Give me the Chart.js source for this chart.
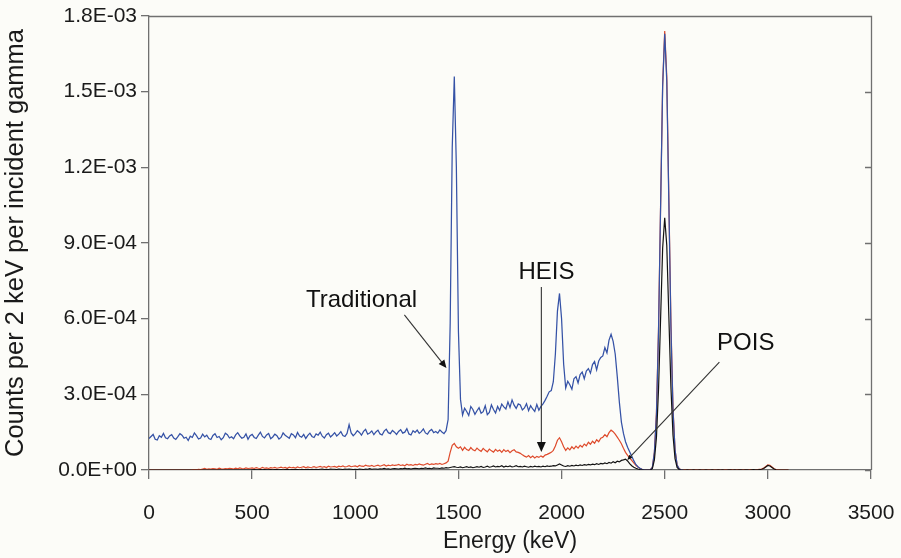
<!DOCTYPE html>
<html><head><meta charset="utf-8">
<script src="https://cdn.jsdelivr.net/npm/chart.js@4.4.1/dist/chart.umd.min.js"></script>
<style>html,body{margin:0;padding:0;background:#fcfcf8}#wrap{width:901px;height:558px}</style>
</head><body><div id="wrap"><canvas id="c" width="901" height="558"></canvas></div>
<script>
// Energy grid (keV)
const energy = [
0,10,20,30,40,50,60,70,80,90,
100,110,120,130,140,150,160,170,180,190,
200,210,220,230,240,250,260,270,280,290,
300,310,320,330,340,350,360,370,380,390,
400,410,420,430,440,450,460,470,480,490,
500,510,520,530,540,550,560,570,580,590,
600,610,620,630,640,650,660,670,680,690,
700,710,720,730,740,750,760,770,780,790,
800,810,820,830,840,850,860,870,880,890,
900,910,920,930,940,950,960,970,980,990,
1000,1010,1020,1030,1040,1050,1060,1070,1080,1090,
1100,1110,1120,1130,1140,1150,1160,1170,1180,1190,
1200,1210,1220,1230,1240,1250,1260,1270,1280,1290,
1300,1310,1320,1330,1340,1350,1360,1370,1380,1390,
1400,1410,1420,1430,1440,1450,1460,1470,1480,1490,
1500,1510,1520,1530,1540,1550,1560,1570,1580,1590,
1600,1610,1620,1630,1640,1650,1660,1670,1680,1690,
1700,1710,1720,1730,1740,1750,1760,1770,1780,1790,
1800,1810,1820,1830,1840,1850,1860,1870,1880,1890,
1900,1910,1920,1930,1940,1950,1960,1970,1980,1990,
2000,2010,2020,2030,2040,2050,2060,2070,2080,2090,
2100,2110,2120,2130,2140,2150,2160,2170,2180,2190,
2200,2210,2220,2230,2240,2250,2260,2270,2280,2290,
2300,2310,2320,2330,2340,2350,2360,2370,2380,2390,
2400,2410,2420,2430,2440,2450,2460,2470,2480,2490,
2500,2510,2520,2530,2540,2550,2560,2570,2580,2590,
2600,2610,2620,2630,2640,2650,2660,2670,2680,2690,
2700,2710,2720,2730,2740,2750,2760,2770,2780,2790,
2800,2810,2820,2830,2840,2850,2860,2870,2880,2890,
2900,2910,2920,2930,2940,2950,2960,2970,2980,2990,
3000,3010,3020,3030,3040,3050,3060,3070,3080,3090,
3100
];
// Counts per 2 keV per incident gamma, in units of 1E-04
const traditional = [
1.25,1.33,1.41,1.22,1.19,1.36,1.30,1.45,1.28,1.24,
1.35,1.40,1.27,1.21,1.32,1.44,1.38,1.26,1.30,1.17,
1.34,1.29,1.47,1.36,1.23,1.27,1.42,1.31,1.38,1.25,
1.21,1.37,1.44,1.29,1.33,1.20,1.28,1.46,1.40,1.27,
1.32,1.24,1.39,1.48,1.35,1.26,1.30,1.43,1.22,1.36,
1.41,1.29,1.25,1.38,1.50,1.33,1.27,1.39,1.45,1.24,
1.31,1.42,1.36,1.23,1.29,1.47,1.38,1.32,1.26,1.44,
1.39,1.28,1.49,1.35,1.30,1.41,1.25,1.37,1.46,1.33,
1.29,1.43,1.38,1.50,1.34,1.27,1.40,1.46,1.31,1.39,
1.48,1.35,1.42,1.52,1.37,1.33,1.45,1.80,1.47,1.36,
1.44,1.56,1.49,1.38,1.53,1.61,1.42,1.47,1.55,1.40,
1.51,1.58,1.43,1.39,1.54,1.62,1.48,1.44,1.57,1.50,
1.41,1.53,1.60,1.46,1.50,1.64,1.43,1.39,1.56,1.49,
1.58,1.45,1.52,1.63,1.47,1.42,1.55,1.61,1.48,1.53,
1.46,1.59,1.51,1.44,1.56,2.00,5.80,12.8,15.6,12.0,
5.50,2.80,2.18,2.45,2.32,2.16,2.52,2.40,2.21,2.35,
2.47,2.25,2.31,2.55,2.19,2.28,2.58,2.40,2.26,2.52,
2.36,2.61,2.50,2.42,2.70,2.48,2.78,2.57,2.44,2.62,
2.58,2.38,2.46,2.63,2.35,2.55,2.42,2.32,2.60,2.37,
2.52,2.62,2.76,2.92,3.10,3.15,3.50,4.60,6.30,7.00,
6.00,4.20,3.25,3.52,3.38,3.20,3.62,3.70,3.45,3.78,
3.88,3.62,3.92,4.02,3.84,4.18,4.30,3.97,4.32,4.46,
4.52,4.85,4.64,5.15,5.38,5.10,4.60,3.70,2.70,1.90,
1.45,1.12,0.90,0.72,0.55,0.37,0.22,0.13,0.07,0.03,
0.01,0,0,0,0.10,0.70,2.20,5.50,10.4,15.2,
17.3,15.4,10.6,5.70,2.40,0.80,0.20,0.05,0,0
];
const heis = [
0,0,0,0,0,0,0,0,0,0,
0,0,0,0,0,0,0,0,0,0,
0,0.01,0.02,0.01,0.03,0.02,0.04,0.06,0.03,0.05,
0.04,0.06,0.05,0.03,0.07,0.05,0.04,0.06,0.05,0.07,
0.06,0.04,0.07,0.05,0.08,0.06,0.05,0.08,0.06,0.07,
0.08,0.06,0.09,0.07,0.06,0.10,0.07,0.08,0.06,0.09,
0.08,0.10,0.07,0.09,0.11,0.08,0.10,0.07,0.11,0.09,
0.10,0.08,0.12,0.09,0.11,0.13,0.09,0.12,0.10,0.11,
0.13,0.10,0.12,0.14,0.11,0.13,0.10,0.15,0.12,0.13,
0.14,0.11,0.15,0.13,0.16,0.12,0.14,0.17,0.13,0.15,
0.16,0.13,0.18,0.15,0.14,0.19,0.16,0.15,0.18,0.14,
0.17,0.19,0.15,0.18,0.21,0.16,0.19,0.17,0.20,0.18,
0.19,0.22,0.18,0.20,0.17,0.23,0.19,0.21,0.18,0.22,
0.20,0.24,0.21,0.19,0.23,0.26,0.21,0.24,0.22,0.25,
0.23,0.26,0.22,0.25,0.28,0.35,0.70,0.98,1.05,0.92,
0.86,0.92,0.78,0.90,0.81,0.77,0.89,0.80,0.76,0.87,
0.79,0.74,0.86,0.78,0.72,0.83,0.76,0.71,0.82,0.74,
0.79,0.70,0.81,0.73,0.78,0.69,0.76,0.80,0.72,0.70,
0.66,0.60,0.55,0.51,0.57,0.49,0.55,0.48,0.54,0.50,
0.56,0.51,0.59,0.62,0.66,0.70,0.78,0.95,1.18,1.28,
1.12,0.92,0.78,0.88,0.80,0.92,0.84,0.95,0.87,0.98,
0.91,1.03,0.96,1.10,1.02,1.14,1.06,1.20,1.12,1.26,
1.30,1.40,1.32,1.48,1.58,1.52,1.42,1.30,1.18,1.04,
0.86,0.70,0.58,0.48,0.38,0.28,0.19,0.12,0.07,0.03,
0.01,0,0,0.01,0.10,0.70,2.30,5.60,10.5,15.3,
17.4,15.6,10.8,5.90,2.50,0.80,0.20,0.05,0.01,0,
0.01,0,0.01,0,0,0.01,0,0.01,0,0.01,
0,0.01,0,0,0.01,0,0.01,0,0,0.01,
0.01,0,0.02,0.01,0,0.01,0.02,0,0.01,0.01,
0,0.01,0.02,0.01,0.01,0.02,0.03,0.04,0.08,0.14,
0.20,0.19,0.12,0.05,0.02,0.01,0,0,0,0,
0
];
const pois = [
0,0,0,0,0,0,0,0,0,0,
0,0,0,0,0,0,0,0,0,0,
0,0,0,0,0,0,0,0,0,0,
0,0,0,0,0,0,0,0,0,0,
0,0,0,0,0,0,0,0,0,0,
0.01,0.02,0.01,0.01,0.02,0.01,0.02,0.01,0.01,0.02,
0.01,0.02,0.02,0.01,0.02,0.01,0.02,0.03,0.01,0.02,
0.02,0.03,0.02,0.01,0.03,0.02,0.02,0.03,0.02,0.03,
0.02,0.03,0.02,0.03,0.04,0.02,0.03,0.02,0.04,0.03,
0.03,0.02,0.04,0.03,0.02,0.04,0.03,0.04,0.03,0.02,
0.03,0.02,0.04,0.03,0.02,0.04,0.03,0.05,0.03,0.04,
0.04,0.03,0.05,0.04,0.06,0.04,0.05,0.03,0.05,0.06,
0.05,0.04,0.06,0.05,0.07,0.05,0.06,0.04,0.06,0.07,
0.06,0.05,0.07,0.06,0.08,0.06,0.07,0.05,0.08,0.07,
0.07,0.06,0.08,0.07,0.09,0.08,0.10,0.12,0.13,0.11,
0.10,0.12,0.09,0.11,0.13,0.10,0.12,0.09,0.11,0.13,
0.11,0.14,0.10,0.12,0.15,0.11,0.13,0.16,0.12,0.14,
0.13,0.17,0.12,0.15,0.13,0.16,0.12,0.14,0.17,0.13,
0.14,0.12,0.15,0.13,0.11,0.14,0.12,0.15,0.13,0.14,
0.12,0.15,0.13,0.16,0.14,0.15,0.17,0.16,0.20,0.24,
0.20,0.16,0.14,0.17,0.15,0.18,0.16,0.19,0.17,0.20,
0.18,0.21,0.19,0.22,0.20,0.23,0.21,0.25,0.22,0.26,
0.24,0.28,0.25,0.30,0.27,0.33,0.29,0.35,0.32,0.38,
0.40,0.43,0.36,0.25,0.17,0.11,0.07,0.04,0.02,0.01,
0,0,0,0,0.05,0.40,1.30,3.20,6.00,8.80,
10.0,8.90,6.10,3.30,1.40,0.45,0.10,0.02,0,0,
0,0.01,0,0,0.01,0,0,0.01,0,0,
0.01,0,0,0.01,0,0,0.01,0,0.01,0,
0,0.01,0.01,0,0.01,0,0.01,0.01,0,0.01,
0.01,0,0.01,0.02,0.01,0.01,0.02,0.03,0.06,0.12,
0.18,0.16,0.10,0.04,0.01,0,0,0,0,0,
0
];

const seriesNames = ['POIS','Traditional','HEIS'];
const seriesColors = ['#121212','#3552a6','#de4a2b'];

const xTicks = [0,500,1000,1500,2000,2500,3000,3500];
const xTickLabels = ['0','500','1000','1500','2000','2500','3000','3500'];
const yTicks = [0,3,6,9,12,15,18];
const yTickLabels = ['0.0E+00','3.0E-04','6.0E-04','9.0E-04','1.2E-03','1.5E-03','1.8E-03'];

// Annotations in data units [energy, counts(1E-04)]
const annLabels = ['Traditional','HEIS','POIS'];
const annTextAt = [[1030,6.74],[1927,7.85],[2893,5.04]];
const annFrom = [[1238,6.15],[1902,7.26],[2765,4.28]];
const annTo = [[1442,4.04],[1902,0.71],[2319,0.40]];
const annHead = [8,10,5];

const FONT = "'Liberation Sans', Arial, sans-serif";
const AXIS = '#707070';

function pts(arr){ return arr.map((v,i)=>({x:energy[i], y:v})); }

const framePlugin = {
  id:'frame',
  beforeDraw(chart){
    const c = chart.ctx; c.save(); c.fillStyle='#fcfcf8'; c.fillRect(0,0,chart.width,chart.height); c.restore();
  },
  afterDraw(chart){
    const {ctx, chartArea:a, scales} = chart;
    ctx.save();
    ctx.strokeStyle = AXIS; ctx.lineWidth = 1.3;
    ctx.beginPath();
    ctx.moveTo(a.left, a.top+0.5); ctx.lineTo(a.right+0.5, a.top+0.5); ctx.lineTo(a.right+0.5, a.bottom);
    yTicks.forEach(v=>{ const y = Math.round(scales.y.getPixelForValue(v))+0.5; ctx.moveTo(a.right, y); ctx.lineTo(a.right-6, y); });
    ctx.stroke();
    // annotations
    ctx.font = '24px ' + FONT; ctx.textAlign='center'; ctx.textBaseline='middle';
    annLabels.forEach((t,i)=>{
      const tx = scales.x.getPixelForValue(annTextAt[i][0]), ty = scales.y.getPixelForValue(annTextAt[i][1]);
      ctx.fillStyle = '#111';
      ctx.fillText(t, tx, ty);
      const x1 = scales.x.getPixelForValue(annFrom[i][0]), y1 = scales.y.getPixelForValue(annFrom[i][1]);
      const x2 = scales.x.getPixelForValue(annTo[i][0]), y2 = scales.y.getPixelForValue(annTo[i][1]);
      const ang = Math.atan2(y2-y1, x2-x1), h = annHead[i];
      ctx.strokeStyle = '#333'; ctx.lineWidth = 1.1;
      ctx.beginPath(); ctx.moveTo(x1,y1); ctx.lineTo(x2 - Math.cos(ang)*h*0.6, y2 - Math.sin(ang)*h*0.6); ctx.stroke();
      ctx.beginPath(); ctx.moveTo(x2,y2);
      ctx.lineTo(x2 - Math.cos(ang)*h + Math.sin(ang)*h*0.45, y2 - Math.sin(ang)*h - Math.cos(ang)*h*0.45);
      ctx.lineTo(x2 - Math.cos(ang)*h - Math.sin(ang)*h*0.45, y2 - Math.sin(ang)*h + Math.cos(ang)*h*0.45);
      ctx.closePath(); ctx.fill();
    });
    ctx.restore();
  }
};

new Chart(document.getElementById('c'), {
  type:'line',
  data:{ datasets:[
    {label:seriesNames[0], data:pts(pois), borderColor:seriesColors[0], borderWidth:1.2},
    {label:seriesNames[1], data:pts(traditional), borderColor:seriesColors[1], borderWidth:1.25},
    {label:seriesNames[2], data:pts(heis), borderColor:seriesColors[2], borderWidth:1.2}
  ]},
  options:{
    responsive:false, animation:false, devicePixelRatio:1,
    elements:{ point:{radius:0}, line:{tension:0} },
    layout:{ padding:{left:0,right:30,top:16,bottom:0} },
    plugins:{ legend:{display:false}, tooltip:{enabled:false} },
    scales:{
      x:{ type:'linear', min:0, max:3500,
        afterBuildTicks:s=>{ s.ticks = xTicks.map(v=>({value:v})); },
        afterFit:s=>{ s.height = 88; s.paddingLeft = 0; s.paddingRight = 0; },
        grid:{ drawOnChartArea:false, drawTicks:true, tickLength:9, color:AXIS, lineWidth:1.3 },
        border:{ display:true, color:AXIS, width:1.3 },
        ticks:{ callback:(v,i)=>xTickLabels[i], font:{family:FONT,size:21}, color:'#1a1a1a', padding:22, maxRotation:0, autoSkip:false },
        title:{ display:true, text:'Energy (keV)', font:{family:FONT,size:23}, color:'#1a1a1a', padding:{top:0,bottom:3} }
      },
      y:{ min:0, max:18,
        afterBuildTicks:s=>{ s.ticks = yTicks.map(v=>({value:v})); },
        afterFit:s=>{ s.width = 149; s.paddingTop = 0; s.paddingBottom = 0; },
        grid:{ drawOnChartArea:false, drawTicks:true, tickLength:8, color:AXIS, lineWidth:1.3 },
        border:{ display:true, color:AXIS, width:1.3 },
        ticks:{ callback:(v,i)=>yTickLabels[i], font:{family:FONT,size:21}, color:'#1a1a1a', padding:4, autoSkip:false },
        title:{ display:true, text:'Counts per 2 keV per incident gamma', font:{family:FONT,size:25.5}, color:'#1a1a1a', padding:{top:1,bottom:0} }
      }
    }
  },
  plugins:[framePlugin]
});
</script>
</body></html>
